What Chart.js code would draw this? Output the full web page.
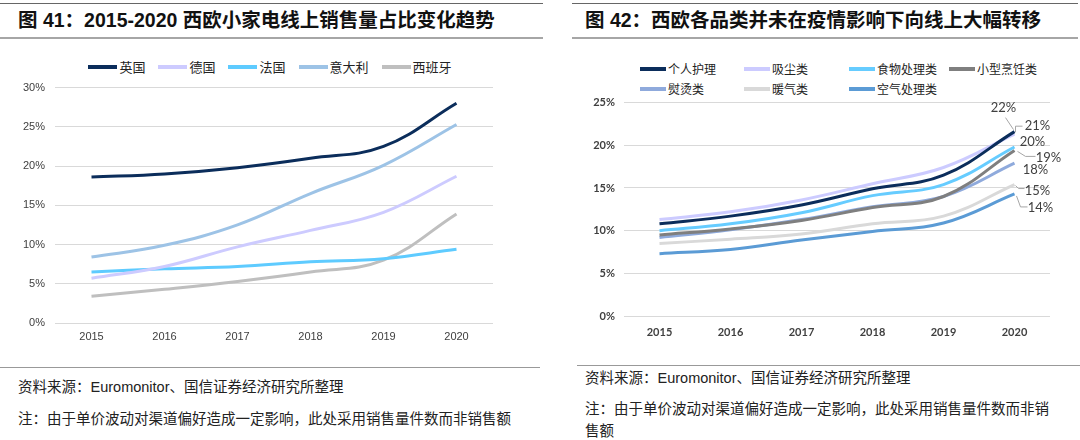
<!DOCTYPE html>
<html>
<head>
<meta charset="utf-8">
<script src="https://cdn.jsdelivr.net/npm/chart.js@4.4.0/dist/chart.umd.min.js"></script>
<style>
  body { margin: 0; background: #fff; }
  #page { position: relative; width: 1080px; height: 440px; overflow: hidden; background: #fff; }
  .rule { position: absolute; height: 0; }
  .title { position: absolute; top: 7px; font-family: "Liberation Sans", "Noto Sans CJK SC", sans-serif; font-weight: bold; font-size: 19.5px; color: #111; white-space: nowrap; line-height: 26px; }
  .note { position: absolute; font-family: "Noto Sans CJK SC", sans-serif; font-size: 14.5px; color: #222; white-space: nowrap; line-height: 22px; }
  .note .en { font-family: "Liberation Sans", sans-serif; }
  .box { position: absolute; }
  .legend { position: absolute; font-family: "Noto Sans CJK SC", sans-serif; color: #222; }
  .legend .item { display: flex; align-items: center; white-space: nowrap; }
  .legend .mark { display: inline-block; height: 4px; margin-right: 2px; }
</style>
</head>
<body>
<div id="page">
  <!-- left panel -->
  <div class="rule" style="left:0;top:3px;width:543px;border-top:1.5px solid #666"></div>
  <div class="title" style="left:18px">图 41：2015-2020 西欧小家电线上销售量占比变化趋势</div>
  <div class="rule" style="left:0;top:37px;width:543px;border-top:2px solid #a6a6a6"></div>
  <div class="legend" id="legendL" style="left:0;top:57px;width:540px;display:flex;justify-content:center;font-size:13px"></div>
  <div class="box" style="left:0;top:71px;width:540px;height:279px"><canvas id="chartL"></canvas></div>
  <div class="rule" style="left:0;top:367px;width:540px;border-top:1.5px solid #999"></div>
  <div class="note" style="left:18px;top:375px">资料来源：<span class="en">Euromonitor</span>、国信证券经济研究所整理</div>
  <div class="note" style="left:18px;top:407px">注：由于单价波动对渠道偏好造成一定影响，此处采用销售量件数而非销售额</div>

  <!-- right panel -->
  <div class="rule" style="left:572px;top:3px;width:506px;border-top:1.5px solid #666"></div>
  <div class="title" style="left:585px">图 42：西欧各品类并未在疫情影响下向线上大幅转移</div>
  <div class="rule" style="left:572px;top:37px;width:506px;border-top:2px solid #a6a6a6"></div>
  <div class="legend" id="legendR" style="left:640px;top:60px;display:grid;grid-template-columns:104px 105px 100px auto;row-gap:3px;font-size:12px"></div>
  <div class="box" style="left:570px;top:87px;width:510px;height:263px"><canvas id="chartR"></canvas></div>
  <div class="rule" style="left:577px;top:365px;width:503px;border-top:1.5px solid #999"></div>
  <div class="note" style="left:585px;top:366px">资料来源：<span class="en">Euromonitor</span>、国信证券经济研究所整理</div>
  <div class="note" style="left:585px;top:397px">注：由于单价波动对渠道偏好造成一定影响，此处采用销售量件数而非销<br>售额</div>
</div>

<script>
// 图41 数据 (%)
var years = ['2015', '2016', '2017', '2018', '2019', '2020']
var yingguo = [18.6, 19.0, 19.8, 21.0, 22.5, 28.0]
var deguo = [5.7, 7.2, 9.7, 11.8, 14.1, 18.7]
var faguo = [6.5, 6.9, 7.2, 7.8, 8.2, 9.4]
var yidali = [8.4, 9.9, 12.5, 16.5, 20.1, 25.3]
var xibanya = [3.4, 4.3, 5.3, 6.5, 8.0, 13.9]

// 图42 数据 (%)
var gerenHuli = [10.8, 11.7, 13.0, 14.9, 16.5, 21.6]
var xichen = [11.3, 12.2, 13.6, 15.5, 17.4, 21.3]
var shiwuChuli = [10.0, 10.8, 12.1, 14.1, 15.4, 19.8]
var xiaoxingPengren = [9.5, 10.2, 11.2, 12.7, 14.0, 19.4]
var yuntang = [9.2, 10.1, 11.3, 12.8, 14.0, 17.9]
var nuanqi = [8.5, 9.0, 9.6, 10.8, 11.7, 15.4]
var kongqiChuli = [7.3, 7.8, 8.9, 9.9, 10.9, 14.3]

var tickColor = '#404040'

function makeLine(label, data, color) {
  return {
    label: label,
    data: data,
    borderColor: color,
    backgroundColor: color,
    borderWidth: 3,
    pointRadius: 0,
    tension: 0.4,
    fill: false
  }
}

function pct(v) { return v + '%' }

// legend built from datasets
function renderLegend(chart, el, width) {
  chart.data.datasets.forEach(function (ds, i) {
    var item = document.createElement('div')
    item.className = 'item'
    if (el.id == 'legendL') item.style.marginRight = i < chart.data.datasets.length - 1 ? '13px' : '0'
    var mark = document.createElement('span')
    mark.className = 'mark'
    mark.style.width = width + 'px'
    mark.style.background = ds.borderColor
    item.appendChild(mark)
    item.appendChild(document.createTextNode(ds.label))
    el.appendChild(item)
  })
}

var chartL = new Chart(document.getElementById('chartL').getContext('2d'), {
  type: 'line',
  data: {
    labels: years,
    datasets: [
      makeLine('英国', yingguo, '#0b2d5b'),
      makeLine('德国', deguo, '#cdcbff'),
      makeLine('法国', faguo, '#5ecbff'),
      makeLine('意大利', yidali, '#9dc3e6'),
      makeLine('西班牙', xibanya, '#bfbfbf')
    ]
  },
  options: {
    responsive: true,
    maintainAspectRatio: false,
    animation: false,
    layout: { padding: { top: 0, right: 47, left: 0, bottom: 0 } },
    plugins: { legend: { display: false }, tooltip: { enabled: false } },
    scales: {
      x: {
        offset: true,
        grid: { display: false, drawTicks: false, tickLength: 0 },
        border: { display: false },
        ticks: { color: tickColor, font: { family: 'Liberation Sans', size: 11 }, padding: 7 },
        afterFit: function (s) { s.height = 27 }
      },
      y: {
        min: 0, max: 30,
        grid: { color: '#d9d9d9', lineWidth: 1, drawTicks: false, tickLength: 0 },
        border: { display: false },
        ticks: { stepSize: 5, callback: pct, color: tickColor, font: { family: 'Liberation Sans', size: 11 }, padding: 10 },
        afterFit: function (s) { s.width = 55 }
      }
    }
  }
})
renderLegend(chartL, document.getElementById('legendL'), 29)

// end labels for 图42, offsets from the last point
var endLabelSpots = [
  { dx: -11, dy: -24, lead: [[-1, -2], [-9, -14]] },
  { dx: 23, dy: -8, lead: [[1, -2], [1, -8], [8, -8]] },
  { dx: 18, dy: -5, lead: null },
  { dx: 34, dy: 7, lead: [[3, 1], [11, 6], [21, 6]] },
  { dx: 21, dy: 7, lead: null },
  { dx: 23, dy: 6, lead: [[1, 1], [4, 4], [10, 4]] },
  { dx: 26, dy: 14, lead: [[2, 2], [6, 13], [13, 13]] }
]

var endLabels = {
  id: 'endLabels',
  afterDatasetsDraw: function (chart) {
    var ctx = chart.ctx
    ctx.save()
    chart.data.datasets.forEach(function (ds, i) {
      var meta = chart.getDatasetMeta(i)
      var pt = meta.data[meta.data.length - 1]
      var v = ds.data[ds.data.length - 1]
      var spot = endLabelSpots[i]
      if (spot.lead) {
        ctx.strokeStyle = '#a6a6a6'
        ctx.lineWidth = 1
        ctx.beginPath()
        spot.lead.forEach(function (p, k) {
          if (k == 0) ctx.moveTo(pt.x + p[0], pt.y + p[1])
          else ctx.lineTo(pt.x + p[0], pt.y + p[1])
        })
        ctx.stroke()
      }
      ctx.fillStyle = '#404040'
      ctx.font = '13px Lato'
      ctx.textAlign = 'center'
      ctx.textBaseline = 'middle'
      ctx.fillText(Math.round(v) + '%', pt.x + spot.dx, pt.y + spot.dy)
    })
    ctx.restore()
  }
}

var chartR = new Chart(document.getElementById('chartR').getContext('2d'), {
  type: 'line',
  data: {
    labels: years,
    datasets: [
      makeLine('个人护理', gerenHuli, '#0b2d5b'),
      makeLine('吸尘类', xichen, '#cccbff'),
      makeLine('食物处理类', shiwuChuli, '#66ccff'),
      makeLine('小型烹饪类', xiaoxingPengren, '#7f7f7f'),
      makeLine('熨烫类', yuntang, '#8faadc'),
      makeLine('暖气类', nuanqi, '#d9d9d9'),
      makeLine('空气处理类', kongqiChuli, '#5b9bd5')
    ]
  },
  options: {
    responsive: true,
    maintainAspectRatio: false,
    animation: false,
    layout: { padding: { top: 0, right: 30, left: 0, bottom: 0 } },
    plugins: { legend: { display: false }, tooltip: { enabled: false } },
    scales: {
      x: {
        offset: true,
        grid: { display: false, drawTicks: false, tickLength: 0 },
        border: { display: false },
        ticks: { color: tickColor, font: { family: 'Lato', size: 11, weight: 'bold' }, padding: 10 },
        afterFit: function (s) { s.height = 34 }
      },
      y: {
        min: 0, max: 25,
        grid: { color: '#d9d9d9', lineWidth: 1, drawTicks: false, tickLength: 0 },
        border: { display: false },
        ticks: { stepSize: 5, callback: pct, color: tickColor, font: { family: 'Lato', size: 11, weight: 'bold' }, padding: 9 },
        afterFit: function (s) { s.width = 54 }
      }
    }
  },
  plugins: [endLabels]
})
renderLegend(chartR, document.getElementById('legendR'), 26)
</script>
</body>
</html>
